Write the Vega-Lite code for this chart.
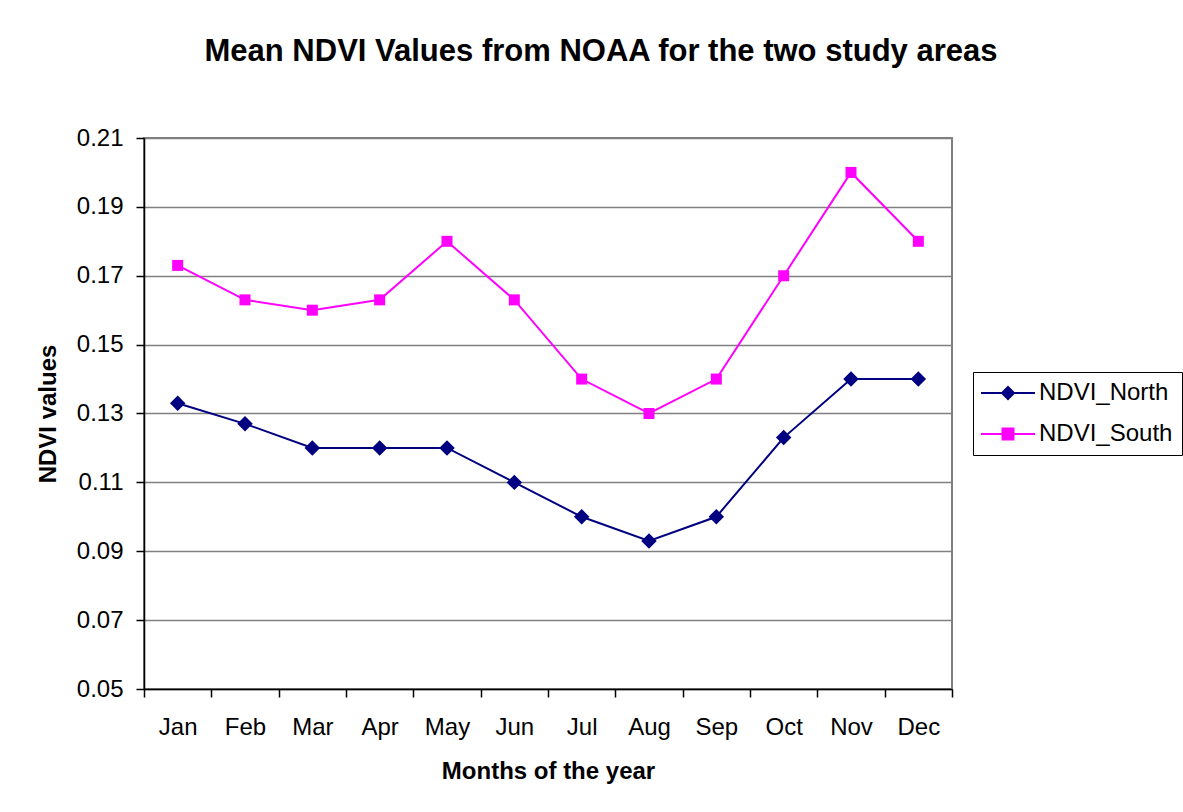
{
  "$schema": "https://vega.github.io/schema/vega-lite/v6.json",
  "autosize": "none",
  "width": 808,
  "height": 551,
  "padding": {"left": 144, "top": 138, "right": 231, "bottom": 123},
  "background": "white",
  "title": {
    "text": "Mean NDVI Values from NOAA for the two study areas",
    "font": "Liberation Sans",
    "fontSize": 31,
    "fontWeight": "bold",
    "color": "black",
    "anchor": "middle",
    "offset": 58,
    "dx": 53
  },
  "config": {
    "view": {"stroke": "#808080", "strokeWidth": 2},
    "axis": {
      "labelFont": "Liberation Sans",
      "labelFontSize": 24,
      "labelColor": "black",
      "titleFont": "Liberation Sans",
      "titleFontSize": 24,
      "titleFontWeight": "bold",
      "titleColor": "black",
      "domainColor": "black",
      "domainWidth": 1.5,
      "tickColor": "black",
      "tickWidth": 1.5,
      "tickSize": 8
    }
  },
  "data": {
    "values": [
      {"month": "Jan", "series": "NDVI_North", "value": 0.133},
      {"month": "Feb", "series": "NDVI_North", "value": 0.127},
      {"month": "Mar", "series": "NDVI_North", "value": 0.12},
      {"month": "Apr", "series": "NDVI_North", "value": 0.12},
      {"month": "May", "series": "NDVI_North", "value": 0.12},
      {"month": "Jun", "series": "NDVI_North", "value": 0.11},
      {"month": "Jul", "series": "NDVI_North", "value": 0.1},
      {"month": "Aug", "series": "NDVI_North", "value": 0.093},
      {"month": "Sep", "series": "NDVI_North", "value": 0.1},
      {"month": "Oct", "series": "NDVI_North", "value": 0.123},
      {"month": "Nov", "series": "NDVI_North", "value": 0.14},
      {"month": "Dec", "series": "NDVI_North", "value": 0.14},
      {"month": "Jan", "series": "NDVI_South", "value": 0.173},
      {"month": "Feb", "series": "NDVI_South", "value": 0.163},
      {"month": "Mar", "series": "NDVI_South", "value": 0.16},
      {"month": "Apr", "series": "NDVI_South", "value": 0.163},
      {"month": "May", "series": "NDVI_South", "value": 0.18},
      {"month": "Jun", "series": "NDVI_South", "value": 0.163},
      {"month": "Jul", "series": "NDVI_South", "value": 0.14},
      {"month": "Aug", "series": "NDVI_South", "value": 0.13},
      {"month": "Sep", "series": "NDVI_South", "value": 0.14},
      {"month": "Oct", "series": "NDVI_South", "value": 0.17},
      {"month": "Nov", "series": "NDVI_South", "value": 0.2},
      {"month": "Dec", "series": "NDVI_South", "value": 0.18}
    ]
  },
  "encoding": {
    "x": {
      "field": "month",
      "type": "ordinal",
      "bandPosition": 0.5,
      "sort": ["Jan","Feb","Mar","Apr","May","Jun","Jul","Aug","Sep","Oct","Nov","Dec"],
      "scale": {"type": "band", "paddingInner": 0, "paddingOuter": 0},
      "axis": {
        "title": "Months of the year",
        "labelAngle": 0,
        "tickBand": "extent",
        "labelPadding": 18,
        "titlePadding": 20,
        "grid": false
      }
    },
    "y": {
      "field": "value",
      "type": "quantitative",
      "scale": {"domain": [0.05, 0.21], "nice": false, "zero": false},
      "axis": {
        "title": "NDVI values",
        "values": [0.05, 0.07, 0.09, 0.11, 0.13, 0.15, 0.17, 0.19, 0.21],
        "format": ".2f",
        "grid": true,
        "gridColor": "#808080",
        "gridWidth": 1.5,
        "gridOpacity": 1,
        "labelPadding": 13,
        "titlePadding": 16
      }
    },
    "color": {
      "field": "series",
      "type": "nominal",
      "scale": {"domain": ["NDVI_North", "NDVI_South"], "range": ["#000080", "#FF00FF"]}
    }
  },
  "layer": [
    {
      "mark": {"type": "line", "strokeWidth": 2},
      "encoding": {
        "color": {
          "field": "series",
          "type": "nominal",
          "scale": {"domain": ["NDVI_North", "NDVI_South"], "range": ["#000080", "#FF00FF"]},
          "legend": {
            "orient": "none",
            "legendX": 829,
            "legendY": 234,
            "title": null,
            "strokeColor": "black",
            "padding": 9,
            "labelFont": "Liberation Sans",
            "labelFontSize": 24,
            "labelColor": "black",
            "labelOffset": 19,
            "symbolSize": 400,
            "symbolOffset": 14,
            "symbolStrokeWidth": 2,
            "rowPadding": 17,
            "encode": {
              "symbols": {
                "update": {
                  "shape": {"signal": "datum.value === 'NDVI_North' ? 'M-2.7,0H2.7M0,-0.6L0.6,0L0,0.6L-0.6,0Z' : 'M-2.7,0H2.7M-0.55,-0.55H0.55V0.55H-0.55Z'"},
                  "fill": {"signal": "datum.value === 'NDVI_North' ? '#000080' : '#FF00FF'"},
                  "stroke": {"signal": "datum.value === 'NDVI_North' ? '#000080' : '#FF00FF'"},
                  "strokeWidth": {"value": 2},
                  "opacity": {"value": 1}
                }
              }
            }
          }
        }
      }
    },
    {
      "transform": [{"filter": "datum.series === 'NDVI_North'"}],
      "mark": {"type": "point", "filled": true, "opacity": 1, "size": 240, "shape": "diamond"}
    },
    {
      "transform": [{"filter": "datum.series === 'NDVI_South'"}],
      "mark": {"type": "point", "filled": true, "opacity": 1, "size": 121, "shape": "square"}
    }
  ]
}
